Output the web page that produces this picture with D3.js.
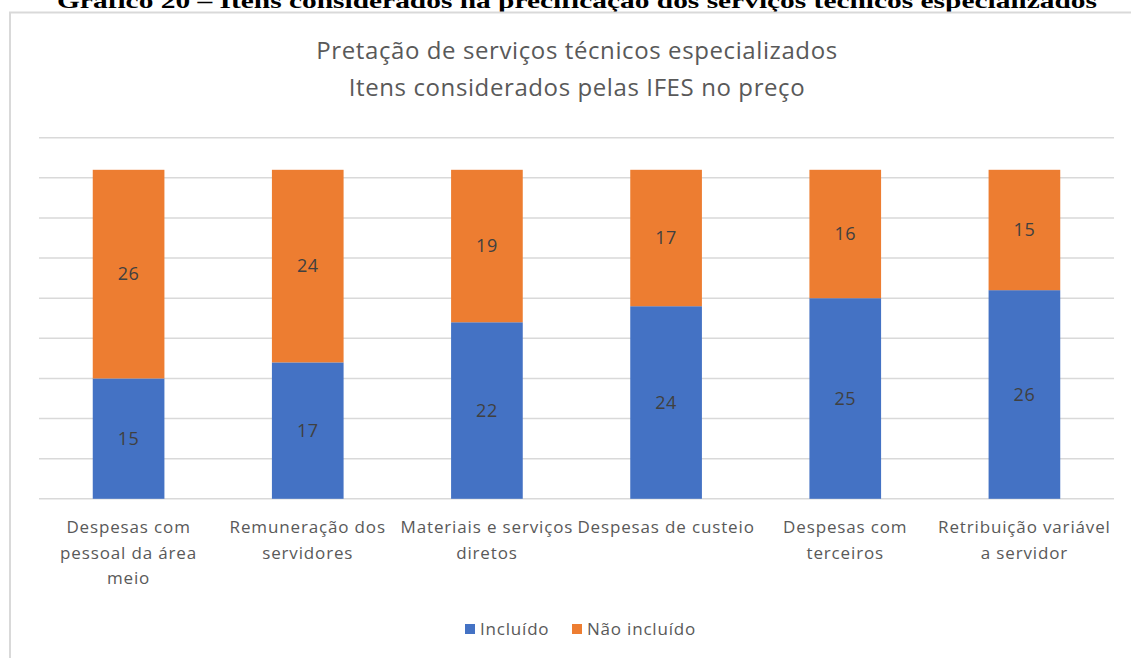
<!DOCTYPE html>
<html>
<head>
<meta charset="utf-8">
<script src="https://cdn.jsdelivr.net/npm/d3@7"></script>
<style>
  html, body { margin: 0; padding: 0; background: #fff; overflow: hidden; }
  svg { display: block; }
</style>
</head>
<body>
<svg id="chart" width="1131" height="658"></svg>
<script>
// ---- data ----
const pageTitle = "Gráfico 20 – Itens considerados na precificação dos serviços técnicos especializados";
const chartTitle = ["Pretação de serviços técnicos especializados", "Itens considerados pelas IFES no preço"];
const categories = [
  "Despesas com\npessoal da área\nmeio",
  "Remuneração dos\nservidores",
  "Materiais e serviços\ndiretos",
  "Despesas de custeio",
  "Despesas com\nterceiros",
  "Retribuição variável\na servidor"
];
const seriesNames = ["Incluído", "Não incluído"];
const incluido = [15, 17, 22, 24, 25, 26];
const naoIncluido = [26, 24, 19, 17, 16, 15];
const yTicks = [0, 5, 10, 15, 20, 25, 30, 35, 40, 45];
const colors = ["#4472C4", "#ED7D31"];

const svg = d3.select("#chart");
const font = "'Open Sans', 'Noto Sans', sans-serif";

// page caption (clipped at top, as in the source document)
svg.append("text")
  .attr("x", 577).attr("y", 8)
  .attr("text-anchor", "middle")
  .attr("font-family", "'Liberation Serif', 'Times New Roman', serif")
  .attr("font-weight", "bold")
  .attr("font-size", 22)
  .attr("textLength", 1040)
  .attr("lengthAdjust", "spacingAndGlyphs")
  .attr("fill", "#000")
  .text(pageTitle);

// chart border (left & top visible)
svg.append("rect")
  .attr("x", 10).attr("y", 12.5)
  .attr("width", 1140).attr("height", 660)
  .attr("fill", "none")
  .attr("stroke", "#d9d9d9")
  .attr("stroke-width", 2);

// title
svg.append("g").selectAll("text").data(chartTitle).join("text")
  .attr("x", 577)
  .attr("y", (d, i) => 59 + i * 37)
  .attr("text-anchor", "middle")
  .attr("font-family", font)
  .attr("font-size", 24)
  .attr("letter-spacing", 0.6)
  .attr("fill", "#595959")
  .text(d => d);

// scales
const x = d3.scaleBand().domain(d3.range(categories.length)).range([39, 1114]).paddingInner(0.6).paddingOuter(0.3);
const y = d3.scaleLinear().domain([0, 45]).range([498.8, 137.7]);

// gridlines
svg.append("g").selectAll("line").data(yTicks).join("line")
  .attr("x1", 39).attr("x2", 1114)
  .attr("y1", d => y(d)).attr("y2", d => y(d))
  .attr("stroke", "#d9d9d9")
  .attr("stroke-width", 1.5);

// stacked data
const rows = categories.map((c, i) => ({ i, "Incluído": incluido[i], "Não incluído": naoIncluido[i] }));
const stack = d3.stack().keys(seriesNames)(rows);

const layers = svg.append("g").selectAll("g").data(stack).join("g")
  .attr("fill", (d, i) => colors[i]);

layers.selectAll("rect").data(d => d).join("rect")
  .attr("x", d => x(d.data.i))
  .attr("width", x.bandwidth())
  .attr("y", d => y(d[1]))
  .attr("height", d => y(d[0]) - y(d[1]));

// value labels
svg.append("g").selectAll("g").data(stack).join("g")
  .selectAll("text").data(d => d.map(v => ({ v, key: d.key }))).join("text")
  .attr("x", d => x(d.v.data.i) + x.bandwidth() / 2)
  .attr("y", d => (y(d.v[0]) + y(d.v[1])) / 2)
  .attr("dy", "0.35em")
  .attr("text-anchor", "middle")
  .attr("font-family", font)
  .attr("font-size", 18)
  .attr("letter-spacing", 0.5)
  .attr("fill", "#404040")
  .text(d => d.v[1] - d.v[0]);

// x axis labels
const xl = svg.append("g").selectAll("text").data(categories).join("text")
  .attr("x", (d, i) => x(i) + x.bandwidth() / 2)
  .attr("y", 533)
  .attr("text-anchor", "middle")
  .attr("font-family", font)
  .attr("font-size", 17)
  .attr("letter-spacing", 0.85)
  .attr("fill", "#595959");
xl.selectAll("tspan").data(d => d.split("\n")).join("tspan")
  .attr("x", function () { return d3.select(this.parentNode).attr("x"); })
  .attr("dy", (d, i) => i === 0 ? 0 : 25.5)
  .text(d => d);

// legend
const legendItems = [
  { name: seriesNames[0], color: colors[0], x: 465 },
  { name: seriesNames[1], color: colors[1], x: 572 }
];
const lg = svg.append("g").selectAll("g").data(legendItems).join("g")
  .attr("transform", d => `translate(${d.x},0)`);
lg.append("rect").attr("x", 0).attr("y", 624).attr("width", 10).attr("height", 10).attr("fill", d => d.color);
lg.append("text").attr("x", 15).attr("y", 635)
  .attr("font-family", font).attr("font-size", 17).attr("letter-spacing", 0.8).attr("fill", "#595959")
  .text(d => d.name);
</script>
</body>
</html>
